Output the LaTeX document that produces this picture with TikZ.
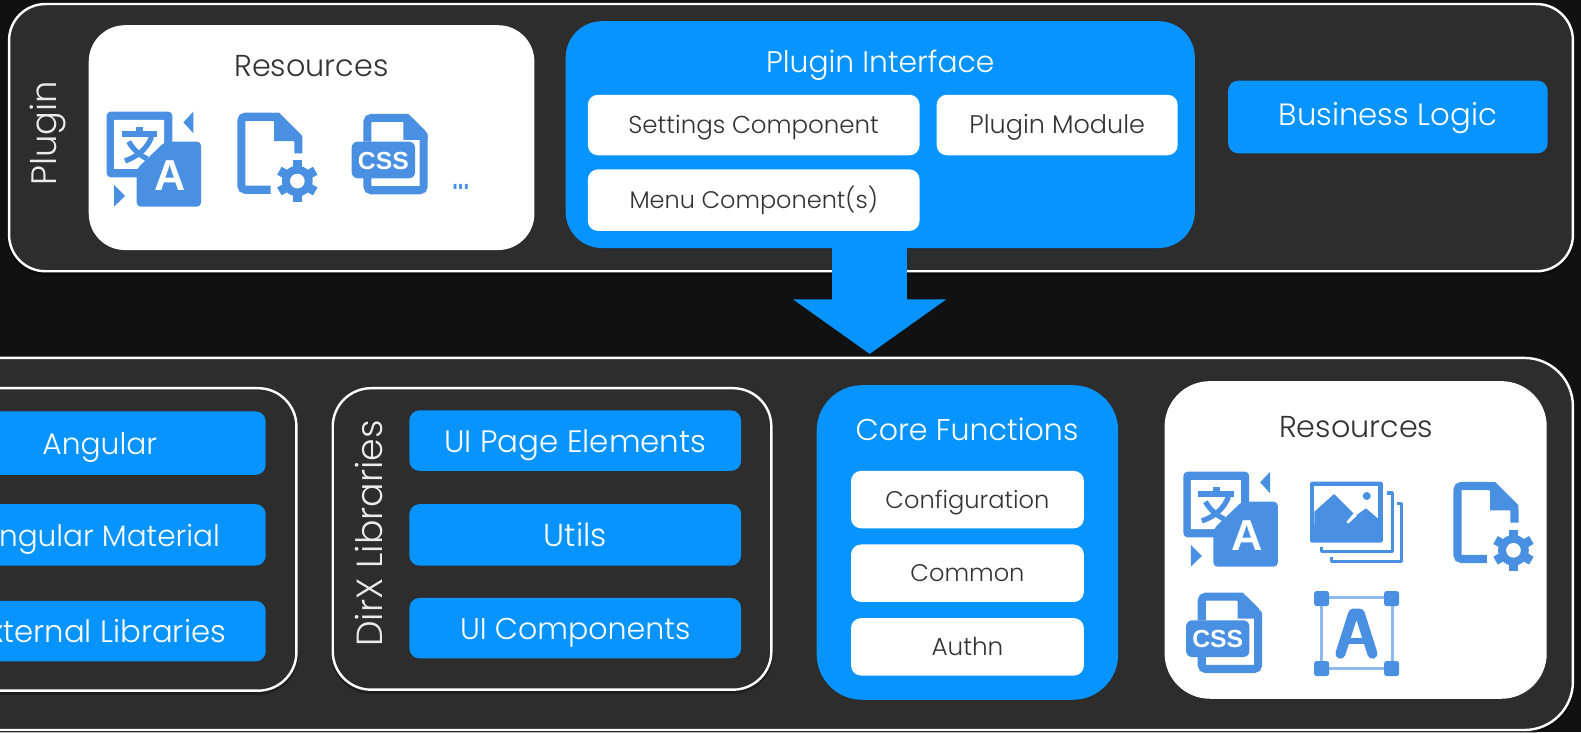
\documentclass[tikz,border=0pt]{standalone}
\usepackage{fontspec}
\setmainfont{Poppins}[UprightFont=* Light]
\newfontfamily\iconfont{Liberation Sans}
\usetikzlibrary{arrows.meta}
\definecolor{bgdark}{HTML}{111111}
\definecolor{paneldark}{HTML}{2D2D2D}
\definecolor{boxblue}{HTML}{0794FF}
\definecolor{iconblue}{HTML}{4A90E2}
\definecolor{linkblue}{HTML}{8DB9EE}
\definecolor{inktext}{HTML}{333333}
\newcommand{\fsz}[1]{\fontsize{#1}{#1}\selectfont}
\tikzset{
  x=1pt,y=-1pt,
  every node/.style={inner sep=0pt,outer sep=0pt},
  panel/.style={draw=white,line width=2.4pt,fill=paneldark,rounded corners=#1,
    preaction={draw=black,draw opacity=.3,line width=3.5pt,transform canvas={yshift=-2.5pt}}},
  panel/.default=36pt,
  card/.style={fill=white,rounded corners=#1},
  card/.default=36pt,
  bluecard/.style={fill=boxblue,rounded corners=36pt},
  capbig/.style={text height=23pt,text depth=0pt},
  capsmall/.style={text height=17pt,text depth=0pt},
  darkhead/.style={capbig,text=inktext},
  lighthead/.style={capbig,text=white},
  bluebox/.style={rectangle,fill=boxblue,rounded corners=10pt,text=white,capbig,minimum width=#1},
  whitebox/.style={rectangle,fill=white,rounded corners=10pt,text=inktext,capsmall,minimum width=#1},
  sidelabel/.style={rotate=90,text=white!92!black,text height=25pt,text depth=0pt},
  bigarrow/.style={boxblue,line width=75pt,-{Triangle[length=54pt,width=149pt]}},
  iconstroke/.style={draw=iconblue,line join=round,fill=none},
  transicon/.pic={
    \begin{scope}[scale=0.3306]
    \fill[iconblue,rounded corners=4pt] (0,0) rectangle (197,197);
    \fill[white] (22,25) -- (172,25) -- (172,100) -- (100,172) -- (22,172) -- cycle;
    \fill[iconblue] (45,58) rectangle (152,77);
    \fill[iconblue] (88,45) rectangle (110,60);
    \draw[iconblue,line width=5.2pt] (135,75) .. controls (120,115) and (90,135) .. (55,148);
    \draw[iconblue,line width=5.2pt] (66,90) .. controls (78,112) and (98,130) .. (122,142);
    \fill[iconblue,rounded corners=4pt] (90,172) -- (175,90) -- (283,90) -- (283,285) -- (90,285) -- cycle;
    \node[text=white,font=\iconfont\bfseries\fsz{43}] (glyph) at (191,192) {A};
    \fill[iconblue] (260,0) -- (230,32) -- (260,65) -- cycle;
    \fill[iconblue] (22,220) -- (55,253) -- (22,285) -- cycle;
    \end{scope}
  },
  fileicon/.pic={
    \begin{scope}[scale=0.3306]
    \draw[iconblue,line width=8pt,rounded corners=4pt] (183,122) -- (183,75) -- (115,12) -- (12,12) -- (12,231) -- (100,231);
    \fill[iconblue] (110,0) -- (125,0) -- (195,70) -- (195,85) -- (110,85) -- cycle;
    \fill[white] (180,205) circle (72);
    \foreach \a in {30,90,...,330}
      \draw[iconblue,line width=9pt] (180,205) -- ++(\a:62);
    \fill[iconblue] (180,205) circle (46);
    \fill[white] (180,205) circle (22);
    \end{scope}
  },
  cssicon/.pic={
    \begin{scope}[scale=0.3306]
    \draw[iconblue,line width=8pt,rounded corners=4pt] (47,83) -- (47,12) -- (165,12) -- (216,62) -- (216,229) -- (47,229) -- (47,190);
    \fill[iconblue] (155,0) -- (170,0) -- (228,60) -- (228,78) -- (155,78) -- cycle;
    \fill[iconblue,rounded corners=6pt] (0,83) rectangle (190,193);
    \node[text=white,font=\iconfont\bfseries\fsz{24.5}] (glyph) at (95,140) {CSS};
    \end{scope}
  },
  imageicon/.pic={
    \begin{scope}[scale=0.3306]
    \fill[iconblue,rounded corners=1.5pt] (0,0) rectangle (218,183);
    \fill[white] (13,13) rectangle (205,130);
    \fill[iconblue] (13,130) -- (13,90) -- (72,37) -- (130,95) -- (108,122) -- (168,80) -- (205,112) -- (205,130) -- cycle;
    \draw[white,line width=2.5pt,line cap=round] (113,122) -- (137,100);
    \fill[iconblue] (170,43) circle (12);
    \draw[iconstroke,line width=3pt] (230,34) -- (247,34) -- (247,210) -- (34,210) -- (34,197);
    \draw[iconstroke,line width=3pt] (262,65) -- (275,65) -- (275,239) -- (65,239) -- (65,226);
    \end{scope}
  },
  fonticon/.pic={
    \begin{scope}[scale=0.3306]
    \draw[linkblue,line width=2.5pt] (22,20) rectangle (235,232);
    \foreach \px/\py in {0/0,210/0,0/210,210/210}
      \fill[iconblue,rounded corners=2.5pt] (\px,\py) rectangle ++(45,45);
    \draw[iconblue,line width=10pt,line cap=round,line join=round] (79,188) -- (117,68) -- (137,68) -- (175,188);
    \draw[iconblue,line width=6pt] (92,150) -- (162,150);
    \end{scope}
  },
}
\begin{document}
\begin{tikzpicture}
\useasboundingbox (0,0) rectangle (1568,726);
\clip (0,0) rectangle (1568,726);
\fill[bgdark] (0,0) rectangle (1568,726);

% Plugin panel
\draw[panel] (9,4) rectangle (1560,269);
\node[sidelabel,font=\fsz{35}] (pluginlabel) at (43.5,132) {Plugin};
\fill[card] (88,25) rectangle (530,248);
\node[darkhead,font=\fsz{30}] (res1title) at (309,64) {Resources};
\pic (tr1) at (105.8,110.7) {transicon};
\pic (fi1) at (235.4,111.8) {fileicon};
\pic (cs1) at (348.8,113) {cssicon};
\node[text=iconblue,font=\iconfont\bfseries\fsz{20},anchor=base] (more) at (457,188) {\scalebox{1}[1.7]{...}};

\fill[bluecard] (561,21) rectangle (1185,246);
\node[lighthead,font=\fsz{29.5}] (iftitle) at (873,60) {Plugin Interface};
\node[whitebox=329pt,minimum height=60pt,font=\fsz{24.3}] (settings) at (747.5,124) {Settings Component};
\node[whitebox=239pt,minimum height=60pt,font=\fsz{25.3}] (module) at (1048.5,124) {Plugin Module};
\node[whitebox=329pt,minimum height=61pt,font=\fsz{23.8}] (menu) at (747.5,198.5) {Menu Component(s)};
\node[bluebox=317pt,minimum height=72pt,text depth=7pt,font=\fsz{30.5}] (logic) at (1376.5,116) {Business Logic};

% Core panel
\draw[panel=48pt] (-80,355) rectangle (1560,724);

% Arrow
\coordinate (arrowtop) at (862.5,246);
\coordinate (arrowtip) at (862.5,351);
\draw[bigarrow] (arrowtop) -- (arrowtip);

% External group
\draw[panel=38pt] (-140,385) rectangle (294,685);
\node[bluebox=329pt,minimum height=63pt,font=\fsz{29.5}] (angular) at (99,439.5) {Angular};
\node[bluebox=329pt,minimum height=61pt,font=\fsz{29.3}] (material) at (99,530.5) {Angular Material};
\node[bluebox=329pt,minimum height=60pt,font=\fsz{30.5}] (external) at (99,626) {External Libraries};

% DirX group
\draw[panel=38pt] (330,385) rectangle (765,684);
\node[sidelabel,font=\fsz{36}] (dirxlabel) at (367,529) {DirX Libraries};
\node[bluebox=329pt,minimum height=60pt,font=\fsz{30.7}] (uipage) at (570.5,437) {UI Page Elements};
\node[bluebox=329pt,minimum height=61pt,font=\fsz{31.5}] (utils) at (570.5,530.5) {Utils};
\node[bluebox=329pt,minimum height=60pt,font=\fsz{29.8}] (uicomp) at (570.5,623) {UI Components};

% Core functions
\fill[boxblue,rounded corners=45pt] (810,382) rectangle (1109,694);
\node[lighthead,font=\fsz{29.8}] (coretitle) at (959,425) {Core Functions};
\node[whitebox=231pt,minimum height=57pt,font=\fsz{23.9}] (config) at (959.5,495.5) {Configuration};
\node[whitebox=231pt,minimum height=57pt,font=\fsz{23.9}] (common) at (959.5,568.5) {Common};
\node[whitebox=231pt,minimum height=57pt,font=\fsz{24.5}] (authn) at (959.5,641.5) {Authn};

% Resources
\fill[card=45pt] (1155,378) rectangle (1534,693);
\node[darkhead,font=\fsz{30}] (res2title) at (1345,422) {Resources};
\pic (tr2) at (1173.7,467.8) {transicon};
\pic (im2) at (1299.3,477.7) {imageicon};
\pic (fi2) at (1441.5,478) {fileicon};
\pic (cs2) at (1176.3,587.8) {cssicon};
\pic (fo2) at (1303.3,586.2) {fonticon};
\end{tikzpicture}
\end{document}
